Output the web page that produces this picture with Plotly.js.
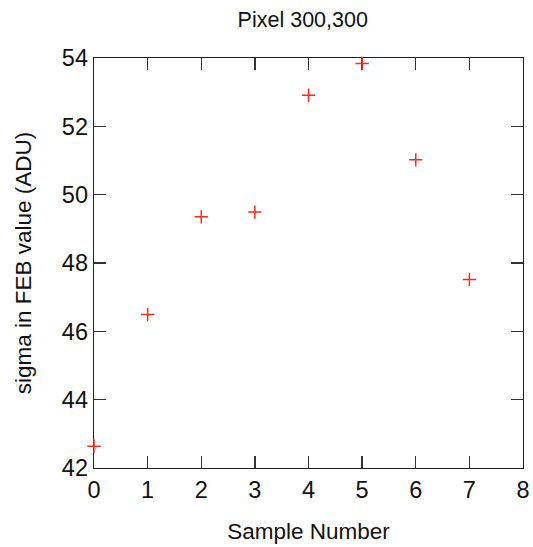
<!DOCTYPE html>
<html><head><meta charset="utf-8">
<script src="https://cdn.plot.ly/plotly-3.0.1.min.js"></script>
<style>html,body{margin:0;padding:0;background:#fff}</style>
</head><body>
<div id="chart" style="width:533px;height:547px"></div>
<script>
const sampleNumbers = [0, 1, 2, 3, 4, 5, 6, 7];
const sigmaValues = [42.64, 46.49, 49.35, 49.49, 52.91, 53.84, 51.02, 47.52];
const xTicks = [0, 1, 2, 3, 4, 5, 6, 7, 8];
const yTicks = [42, 44, 46, 48, 50, 52, 54];

const font = "Liberation Sans, Arial, sans-serif";
Plotly.newPlot('chart', [{
  x: sampleNumbers, y: sigmaValues, type: 'scatter', mode: 'markers',
  marker: {symbol: 'cross-thin-open', size: 9.5, color: '#ff2a1a', line: {color: '#ff2a1a', width: 1.5}},
  cliponaxis: false, showlegend: false
}], {
  width: 533, height: 547,
  margin: {l: 94, r: 10, t: 58, b: 79},
  paper_bgcolor: '#fff', plot_bgcolor: '#fff',
  title: {text: 'Pixel 300,300', font: {family: font, size: 21.5, color: '#111'}, x: 0.568, xanchor: 'center', y: 0.965, yanchor: 'middle'},
  xaxis: {range: [0, 8], tickvals: xTicks, ticktext: xTicks.map(String), ticks: 'inside', ticklen: 12, tickwidth: 1.3, tickcolor: '#333',
    showline: true, linecolor: '#222', linewidth: 1.3, mirror: 'ticks', showgrid: false, zeroline: false, layer: 'below traces',
    tickfont: {family: font, size: 23.5, color: '#111'},
    title: {text: 'Sample Number', font: {family: font, size: 22.5, color: '#111'}, standoff: 21}},
  yaxis: {range: [42, 54], tickvals: yTicks, ticktext: yTicks.map(String), ticks: 'inside', ticklen: 12, tickwidth: 1.3, tickcolor: '#333',
    showline: true, linecolor: '#222', linewidth: 1.3, mirror: 'ticks', showgrid: false, zeroline: false, layer: 'below traces',
    tickfont: {family: font, size: 23.5, color: '#111'},
    title: {text: 'sigma in FEB value (ADU)', font: {family: font, size: 22.5, color: '#111'}, standoff: 24}}
}, {staticPlot: true});
</script>
</body></html>
